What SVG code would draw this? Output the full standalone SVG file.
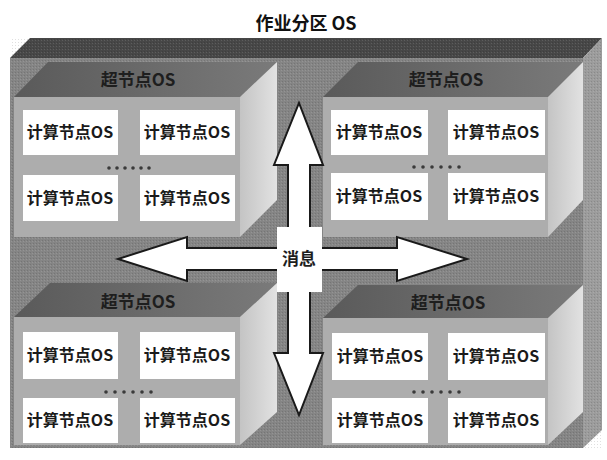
<svg xmlns="http://www.w3.org/2000/svg" width="607" height="460" viewBox="0 0 607 460">
<defs>
<linearGradient id="rface" x1="0" y1="0" x2="1" y2="0">
<stop offset="0" stop-color="#c4c4c4"/><stop offset="1" stop-color="#e2e2e2"/>
</linearGradient>
<linearGradient id="itop" x1="0" y1="0" x2="1" y2="0">
<stop offset="0" stop-color="#5a5a5a"/><stop offset="1" stop-color="#7a7a7a"/>
</linearGradient>
<pattern id="grain" width="3" height="3" patternUnits="userSpaceOnUse">
<rect width="3" height="3" fill="none"/><rect x="0" y="0" width="1" height="1" fill="#000" opacity="0.12"/><rect x="2" y="1" width="1" height="1" fill="#fff" opacity="0.12"/>
</pattern>
<style>
.otop{fill:#474747}
.ofront{fill:#858585}
.oright{fill:#9c9c9c}
.ifront{fill:#adadad}
.itop{fill:url(#itop)}
.iright{fill:url(#rface)}
.grain{fill:url(#grain)}
.cn{fill:#ffffff}
.cnt{font-family:"Noto Sans CJK SC","Liberation Serif",serif;font-size:16px;font-weight:bold;fill:#1a1a1a;text-anchor:middle}
.snt{font-family:"Noto Sans CJK SC","Liberation Serif",serif;font-size:17px;font-weight:bold;fill:#1e1e1e;text-anchor:middle}
.title{font-family:"Noto Sans CJK SC","Liberation Sans",sans-serif;font-size:18px;font-weight:bold;fill:#111;text-anchor:middle}
.dot{fill:#3a3a3a}
.arrowfill{fill:#ffffff}
.arrowline{fill:none;stroke:#1a1a1a;stroke-width:2;stroke-linejoin:miter}
</style>
</defs>
<rect width="607" height="460" fill="#ffffff"/>
<text class="title" x="306" y="30">作业分区  OS</text>

<g id="partition">
<polygon class="otop" points="10,58 30,38 602,38 583,58"/>
<rect class="ofront" x="10" y="58" width="573" height="390"/>
<polygon class="oright" points="583,58 602,38 602,430 583,448"/>
<rect class="grain" x="10" y="38" width="592" height="410"/>
</g>

<g id="super-tl">
<polygon class="itop" points="14,97 48,62 277,62 240,97"/>
<rect class="ifront" x="14" y="97" width="226" height="140"/>
<polygon class="iright" points="240,97 277,62 277,200 240,237"/>
<text class="snt" x="138" y="86">超节点OS</text>
</g>
<g id="super-tr">
<polygon class="itop" points="323,97 358,62 583,62 548,97"/>
<rect class="ifront" x="323" y="97" width="225" height="140"/>
<polygon class="iright" points="548,97 583,62 583,200 548,237"/>
<text class="snt" x="446" y="86">超节点OS</text>
</g>
<g id="super-bl">
<polygon class="itop" points="14,317 50,283 277,283 240,317"/>
<rect class="ifront" x="14" y="317" width="226" height="128"/>
<polygon class="iright" points="240,317 277,283 277,412 240,445"/>
<text class="snt" x="138" y="308">超节点OS</text>
</g>
<g id="super-br">
<polygon class="itop" points="323,318 358,285 583,285 548,318"/>
<rect class="ifront" x="323" y="318" width="225" height="127"/>
<polygon class="iright" points="548,318 583,285 583,412 548,445"/>
<text class="snt" x="448" y="309">超节点OS</text>
</g>

<g id="tl-cn1"><rect class="cn" x="23" y="110" width="95" height="45"/><text class="cnt" x="70" y="138">计算节点OS</text></g>
<g id="tl-cn2"><rect class="cn" x="140" y="110" width="95" height="45"/><text class="cnt" x="187" y="138">计算节点OS</text></g>
<g id="tl-cn3"><rect class="cn" x="23" y="175" width="95" height="46"/><text class="cnt" x="70" y="204">计算节点OS</text></g>
<g id="tl-cn4"><rect class="cn" x="140" y="175" width="95" height="46"/><text class="cnt" x="187" y="204">计算节点OS</text></g>
<g id="tl-dots"><circle class="dot" cx="109" cy="168" r="1.8"/><circle class="dot" cx="117" cy="168" r="1.8"/><circle class="dot" cx="125" cy="168" r="1.8"/><circle class="dot" cx="133" cy="168" r="1.8"/><circle class="dot" cx="141" cy="168" r="1.8"/><circle class="dot" cx="149" cy="168" r="1.8"/></g>

<g id="tr-cn1"><rect class="cn" x="331" y="110" width="97" height="45"/><text class="cnt" x="379" y="138">计算节点OS</text></g>
<g id="tr-cn2"><rect class="cn" x="448" y="110" width="97" height="45"/><text class="cnt" x="496" y="138">计算节点OS</text></g>
<g id="tr-cn3"><rect class="cn" x="331" y="173" width="97" height="47"/><text class="cnt" x="379" y="202">计算节点OS</text></g>
<g id="tr-cn4"><rect class="cn" x="448" y="173" width="97" height="47"/><text class="cnt" x="496" y="202">计算节点OS</text></g>
<g id="tr-dots"><circle class="dot" cx="414" cy="167" r="1.8"/><circle class="dot" cx="423" cy="167" r="1.8"/><circle class="dot" cx="432" cy="167" r="1.8"/><circle class="dot" cx="441" cy="167" r="1.8"/><circle class="dot" cx="450" cy="167" r="1.8"/><circle class="dot" cx="459" cy="167" r="1.8"/></g>

<g id="bl-cn1"><rect class="cn" x="23" y="332" width="95" height="47"/><text class="cnt" x="70" y="361">计算节点OS</text></g>
<g id="bl-cn2"><rect class="cn" x="140" y="332" width="95" height="47"/><text class="cnt" x="187" y="361">计算节点OS</text></g>
<g id="bl-cn3"><rect class="cn" x="23" y="398" width="95" height="45"/><text class="cnt" x="70" y="426">计算节点OS</text></g>
<g id="bl-cn4"><rect class="cn" x="140" y="398" width="95" height="45"/><text class="cnt" x="187" y="426">计算节点OS</text></g>
<g id="bl-dots"><circle class="dot" cx="106" cy="392" r="1.8"/><circle class="dot" cx="115" cy="392" r="1.8"/><circle class="dot" cx="124" cy="392" r="1.8"/><circle class="dot" cx="133" cy="392" r="1.8"/><circle class="dot" cx="142" cy="392" r="1.8"/><circle class="dot" cx="151" cy="392" r="1.8"/></g>

<g id="br-cn1"><rect class="cn" x="332" y="333" width="96" height="47"/><text class="cnt" x="380" y="362">计算节点OS</text></g>
<g id="br-cn2"><rect class="cn" x="448" y="333" width="97" height="47"/><text class="cnt" x="496" y="362">计算节点OS</text></g>
<g id="br-cn3"><rect class="cn" x="332" y="398" width="96" height="45"/><text class="cnt" x="380" y="426">计算节点OS</text></g>
<g id="br-cn4"><rect class="cn" x="448" y="398" width="97" height="45"/><text class="cnt" x="496" y="426">计算节点OS</text></g>
<g id="br-dots"><circle class="dot" cx="414" cy="392" r="1.8"/><circle class="dot" cx="423" cy="392" r="1.8"/><circle class="dot" cx="432" cy="392" r="1.8"/><circle class="dot" cx="441" cy="392" r="1.8"/><circle class="dot" cx="450" cy="392" r="1.8"/><circle class="dot" cx="459" cy="392" r="1.8"/></g>

<g id="connectors">
<polygon class="arrowfill" points="299,103 323,165 310,165 310,227 322,227 322,248 397,248 397,237 467,259 397,281 397,270 322,270 322,292 310,292 310,353 323,353 299,415 274,353 288,353 288,292 277,292 277,270 187,270 187,281 118,259 187,237 187,248 277,248 277,227 288,227 288,165 274,165"/>
<path class="arrowline" d="M288,227 V165 H274 L299,103 L323,165 H310 V227"/>
<path class="arrowline" d="M322,248 H397 V237 L467,259 L397,281 V270 H322"/>
<path class="arrowline" d="M310,292 V353 H323 L299,415 L274,353 H288 V292"/>
<path class="arrowline" d="M277,270 H187 V281 L118,259 L187,237 V248 H277"/>
</g>
<g id="msg"><text class="snt" x="299" y="265">消息</text></g>
</svg>
